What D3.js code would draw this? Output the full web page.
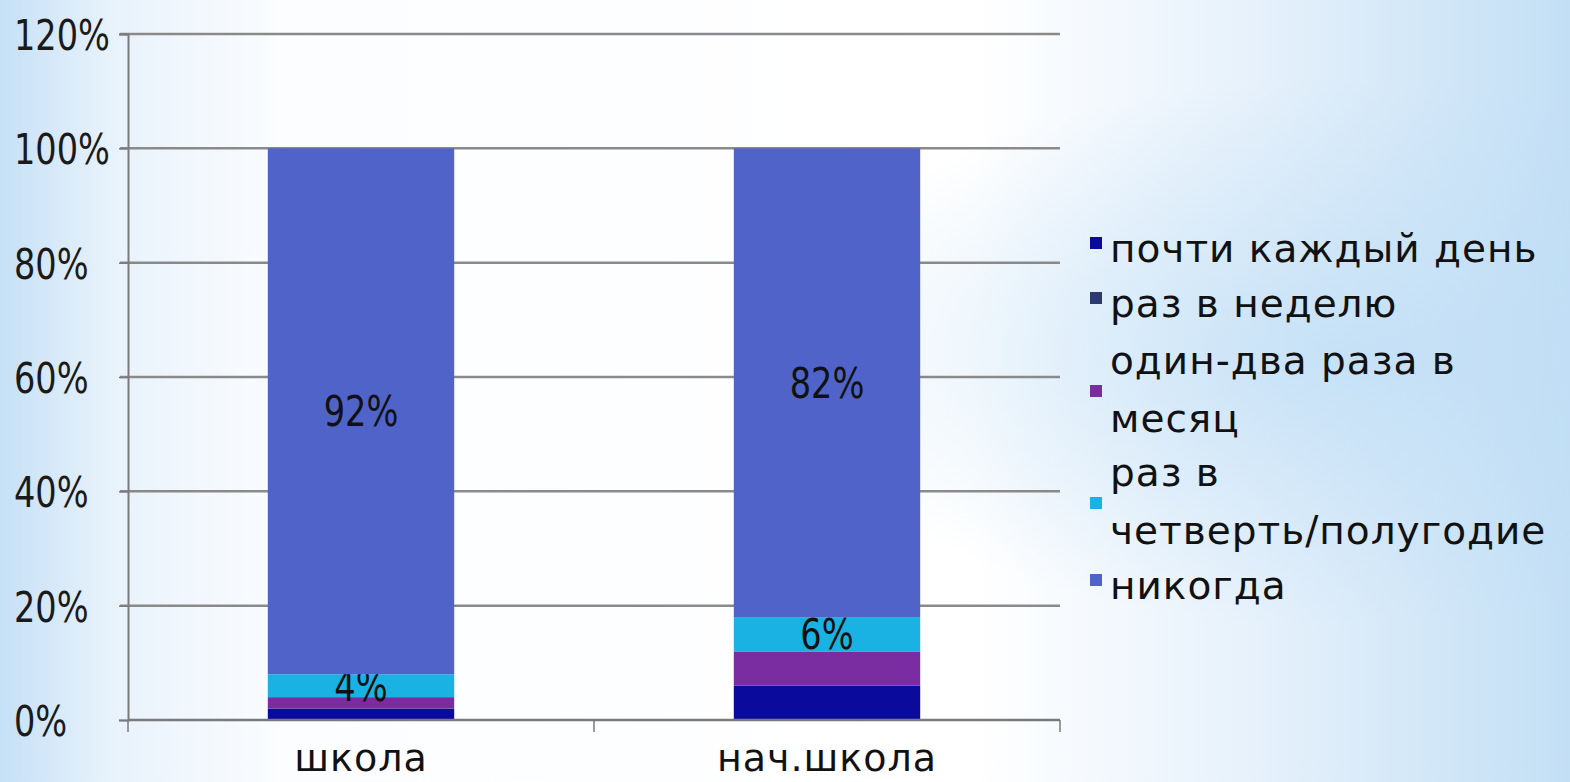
<!DOCTYPE html>
<html><head><meta charset="utf-8">
<script src="https://cdn.jsdelivr.net/npm/d3@7"></script>
<style>
html,body{margin:0;padding:0;width:1570px;height:782px;overflow:hidden;}
</style>
</head><body>
<svg id="c" width="1570" height="782"></svg>
<script>
const categories = ["школа", "нач.школа"];
const seriesNames = ["почти каждый день", "раз в неделю", "один-два раза в месяц", "раз в четверть/полугодие", "никогда"];
const legendLines = [["почти каждый день"], ["раз в неделю"], ["один-два раза в", "месяц"], ["раз в", "четверть/полугодие"], ["никогда"]];
const seriesColors = ["#0a0a9c", "#2c3a70", "#7a2da0", "#1ab2e2", "#5063c8"];
const valuesSchool = [0.02, 0, 0.02, 0.04, 0.92];
const valuesPrimary = [0.06, 0, 0.06, 0.06, 0.82];
const labeledSeries = [3, 4];
const yTicks = [0, 0.2, 0.4, 0.6, 0.8, 1.0, 1.2];

const svg = d3.select("#c");
const W = 1570, H = 782;

// background
const defs = svg.append("defs");
const lg = defs.append("linearGradient").attr("id","bg").attr("x1","0").attr("x2","1").attr("y1","0").attr("y2","0");
[[0,"#c6e0f6"],[0.07,"#e8f2fb"],[0.18,"#fbfdff"],[0.62,"#ffffff"],[0.8,"#e6f1fb"],[1,"#c3dff5"]].forEach(s=>lg.append("stop").attr("offset",s[0]).attr("stop-color",s[1]));
svg.append("rect").attr("width",W).attr("height",H).attr("fill","url(#bg)");
const rg = defs.append("radialGradient").attr("id","bg2").attr("cx","0.85").attr("cy","0.45").attr("r","0.35");
rg.append("stop").attr("offset",0).attr("stop-color","#bcdcf5").attr("stop-opacity",0.7);
rg.append("stop").attr("offset",1).attr("stop-color","#bcdcf5").attr("stop-opacity",0);
svg.append("rect").attr("width",W).attr("height",H).attr("fill","url(#bg2)");

const x0 = 128, x1 = 1060, yBottom = 720, yTop = 34;
const x = d3.scaleBand().domain(categories).range([x0, x1]).padding(0);
const y = d3.scaleLinear().domain([0, 1.2]).range([yBottom, yTop]);

// gridlines
const g = svg.append("g");
g.selectAll("line.grid").data(yTicks.filter(t=>t>0)).enter().append("line")
  .attr("x1", 120).attr("x2", x1).attr("y1", d=>y(d)).attr("y2", d=>y(d))
  .attr("stroke","#8a8a8a").attr("stroke-width",2.5);

// y axis
const yAxis = d3.axisLeft(y).tickValues(yTicks).tickFormat(d=>Math.round(d*100)+"%").tickSize(9).tickPadding(4);
const ya = svg.append("g").attr("transform",`translate(${x0},0)`).call(yAxis);
ya.select(".domain").attr("stroke","#7a7a7a").attr("stroke-width",2);
ya.selectAll(".tick line").attr("stroke","#7a7a7a").attr("stroke-width",1.5);
const sx = 0.78;
ya.selectAll(".tick text").attr("font-family","'DejaVu Sans'")
  .attr("font-size",43).attr("fill","#1a1a1a").attr("dy","0.36em")
  .attr("text-anchor","start")
  .attr("transform",`scale(${sx},1)`).attr("x", (14 - x0)/sx);

// bars
const data = [valuesSchool, valuesPrimary];
const barW = x.bandwidth()*0.4;
data.forEach((vals, ci)=>{
  let acc = 0;
  const cx = x(categories[ci]) + x.bandwidth()/2;
  vals.forEach((v, si)=>{
    const y0 = acc, y1v = acc + v; acc = y1v;
    if (v > 0) {
      svg.append("rect").attr("x", cx - barW/2).attr("width", barW)
        .attr("y", y(y1v)).attr("height", y(y0)-y(y1v)).attr("fill", seriesColors[si]);
    }
    if (labeledSeries.includes(si)) {
      svg.append("text").attr("x", cx).attr("y", (y(y0)+y(y1v))/2).attr("dy","0.36em")
        .attr("text-anchor","middle").attr("font-family","'DejaVu Sans'")
        .attr("font-size",42).attr("fill","#111")
        .attr("transform",`translate(${cx},0) scale(0.8,1) translate(${-cx},0)`)
        .text(Math.round(v*100)+"%");
    }
  });
});

// x axis
svg.append("line").attr("x1",x0).attr("x2",x1).attr("y1",yBottom).attr("y2",yBottom).attr("stroke","#7a7a7a").attr("stroke-width",2.5);
const edges = [x0].concat(categories.map(c=>x(c)+x.bandwidth()));
svg.selectAll("line.xt").data(edges).enter().append("line")
  .attr("x1",d=>d).attr("x2",d=>d).attr("y1",yBottom).attr("y2",yBottom+12)
  .attr("stroke","#7a7a7a").attr("stroke-width",1.5);
svg.selectAll("text.cat").data(categories).enter().append("text")
  .attr("x", d=>x(d)+x.bandwidth()/2).attr("y", 771)
  .attr("text-anchor","middle").attr("font-family","'DejaVu Sans'").attr("font-size",38).attr("letter-spacing",1).attr("fill","#111")
  .text(d=>d);

// legend
const lx = 1090;
const legendYs = [[248],[303],[360,418],[472,530],[585]];
legendLines.forEach((lines, i)=>{
  const ys = legendYs[i];
  const mid = ys.length===1 ? ys[0] : (ys[0]+ys[1])/2;
  svg.append("rect").attr("x", lx).attr("y", mid - 8 + (ys.length===1 ? -3 : 4)).attr("width", 12).attr("height", 12)
    .attr("fill", seriesColors[i]);
  lines.forEach((t, j)=>{
    svg.append("text").attr("x", lx + 20).attr("y", ys[j]).attr("dy","0.35em")
      .attr("font-family","'DejaVu Sans'").attr("font-size",39).attr("letter-spacing",1).attr("fill","#111").text(t);
  });
});
</script>
</body></html>
